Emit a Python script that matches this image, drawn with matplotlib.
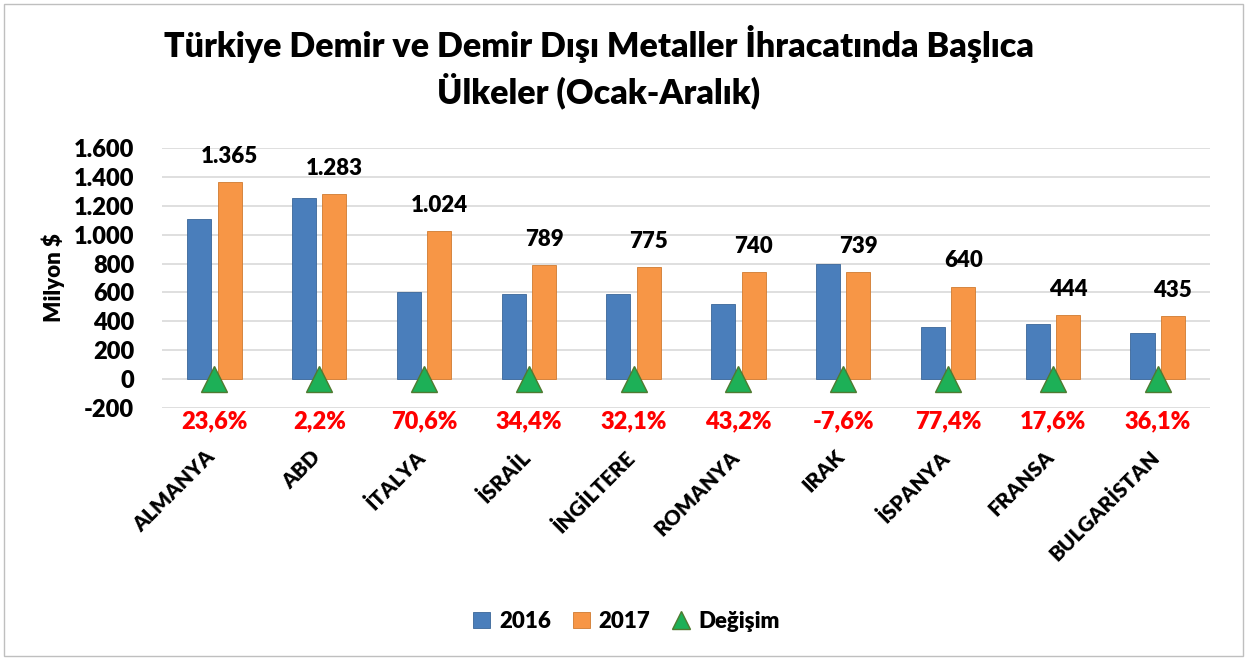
import matplotlib.pyplot as plt
import matplotlib.transforms as mtransforms
import numpy as np
from matplotlib.patches import Rectangle

# Data
countries = ['ALMANYA', 'ABD', 'İTALYA', 'İSRAİL', 'İNGİLTERE', 'ROMANYA',
             'IRAK', 'İSPANYA', 'FRANSA', 'BULGARİSTAN']
val_2016 = [1105, 1255, 600, 587, 587, 517, 800, 361, 378, 320]
val_2017 = [1365, 1283, 1024, 789, 775, 740, 739, 640, 444, 435]
change = [23.6, 2.2, 70.6, 34.4, 32.1, 43.2, -7.6, 77.4, 17.6, 36.1]

plt.rcParams['font.family'] = ['Lato', 'DejaVu Sans']
WT = 'heavy'

fig = plt.figure(figsize=(12.48, 6.59), dpi=100)
ax = fig.add_axes([0.1298, 0.381, 0.8398, 0.3944])

x = np.arange(len(countries))
w = 0.23
b1 = ax.bar(x - 0.145, val_2016, w, color='#4A7EBB', edgecolor='#3a6699', lw=0.6,
            label='2016', zorder=3)
b2 = ax.bar(x + 0.145, val_2017, w, color='#F79646', edgecolor='#d07a30', lw=0.6,
            label='2017', zorder=3)
ax.plot(x, np.zeros(len(x)), ls='none', marker='^', markersize=19,
        color='#1DB057', markeredgecolor='#4f7a30', markeredgewidth=1,
        label='Değişim', zorder=4)

# 2017 value labels
for xi, v in zip(x, val_2017):
    s = f'{v:,}'.replace(',', '.')
    ax.annotate(s, (xi + 0.145, v), xytext=(0, 11), textcoords='offset points',
                ha='center', va='bottom', fontsize=16, fontweight=WT)

# change labels below axis
for xi, c in zip(x, change):
    s = f'{c:.1f}%'.replace('.', ',')
    ax.text(xi, -290, s, ha='center', va='center', color='#ff0000',
            fontsize=17, fontweight=WT, clip_on=False)

ax.set_ylim(-200, 1600)
ax.set_xlim(-0.5, len(x) - 0.5)
ax.set_yticks(np.arange(-200, 1601, 200))
ax.set_yticklabels([f'{t:,}'.replace(',', '.') for t in range(-200, 1601, 200)],
                   fontsize=17, fontweight=WT)
ax.set_xticks(x)
ax.set_xticklabels(countries, rotation=45, ha='right', rotation_mode='anchor',
                   fontsize=15, fontweight=WT)
ax.tick_params(axis='x', length=0, pad=28)
ax.tick_params(axis='y', length=0, pad=20)
shift = mtransforms.ScaledTranslation(-0.09, 0, fig.dpi_scale_trans)
for lab in ax.get_xticklabels():
    lab.set_transform(lab.get_transform() + shift)

ax.grid(axis='y', color='#d9d9d9', lw=1.2, zorder=0)
for sp in ax.spines.values():
    sp.set_visible(False)

ax.set_ylabel('Milyon $', fontsize=16, fontweight=WT)
ax.yaxis.set_label_coords(-0.093, 0.5)

fig.suptitle('Türkiye Demir ve Demir Dışı Metaller İhracatında Başlıca\nÜlkeler (Ocak-Aralık)',
             x=0.48, y=0.962, fontsize=24.5, fontweight=WT, linespacing=1.3)

leg = fig.legend(handles=[b1, b2, ax.lines[0]], loc='center', bbox_to_anchor=(0.502, 0.057),
                 ncol=3, frameon=False, prop={'weight': WT, 'size': 16},
                 handlelength=0.75, handleheight=0.75, columnspacing=1.0, handletextpad=0.4,
                 markerscale=0.7)

fig.patches.append(Rectangle((0.003, 0.004), 0.993, 0.99, transform=fig.transFigure,
                             fill=False, edgecolor='#bfbfbf', lw=1))

fig.savefig('out.png', dpi=100)
